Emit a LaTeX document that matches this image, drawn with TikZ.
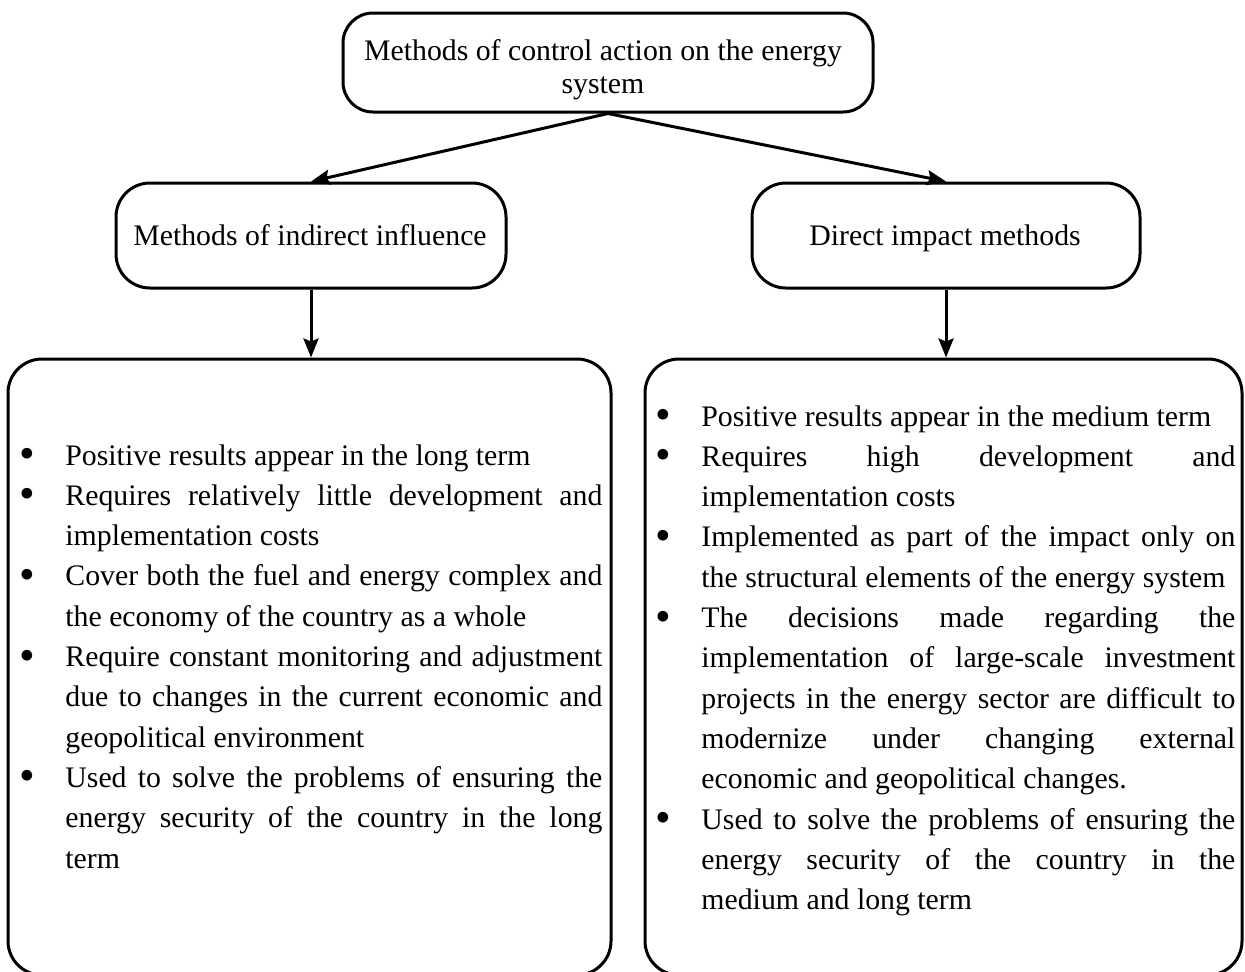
\documentclass[tikz,border=0pt]{standalone}
\usepackage{fontspec}
\setmainfont{Liberation Serif}
\usetikzlibrary{arrows.meta}

% one bullet entry with a hanging indent
\newcommand\bulletitem[1]{\hangindent=23pt\hangafter=1\noindent
  \makebox[23pt][l]{\raisebox{-0.12em}{\scalebox{1.5}{\textbullet}}}#1\par}

\begin{document}
\begin{tikzpicture}[x=0.5pt,y=-0.5pt,
  frame/.style={draw, rectangle, line width=1.5pt, inner sep=0pt},
  headtext/.style={inner sep=0pt, anchor=base,
    font=\fontsize{14.9pt}{16.5pt}\selectfont},
  listtext/.style={inner sep=0pt, anchor=base west, align=justify,
    font=\fontsize{14.9pt}{20.15pt}\selectfont},
  link/.style={line width=1.5pt, -{Stealth[length=9.5pt,width=7.5pt,inset=1.5pt]}}
]
\clip (0,0) rectangle (1245,971);
\fill[white] (0,0) rectangle (1245,971);

% boxes
\node[frame, rounded corners=15pt, minimum width=265pt, minimum height=49.5pt] (top) at (608,62.5) {};
\node[frame, rounded corners=17pt, minimum width=195pt, minimum height=52.5pt] (midL) at (311,235.5) {};
\node[frame, rounded corners=17pt, minimum width=194pt, minimum height=52.5pt] (midR) at (946,235.5) {};
\node[frame, rounded corners=17pt, minimum width=301.5pt, minimum height=308pt] (botL) at (309.5,667) {};
\node[frame, rounded corners=17pt, minimum width=298.5pt, minimum height=308pt] (botR) at (943.5,667) {};

% headings
\node[headtext] (topText) at (603,60)
  {\parbox[t]{262pt}{\centering Methods of control action on the energy\\system}};
\node[headtext] (midLText) at (310,245) {Methods of indirect influence};
\node[headtext] (midRText) at (945,245) {Direct impact methods};

% connectors
\draw[link] (top.south) -- (midL.north);
\draw[link] (top.south) -- (midR.north);
\draw[link] (midL.south) -- (midL.south |- botL.north);
\draw[link] (midR.south) -- (midR.south |- botR.north);

% bullet lists
\node[listtext, text width=291.5pt] (listL) at (19,465) {%
  \tolerance=10000 \hbadness=10000 \hyphenpenalty=10000 \exhyphenpenalty=10000 %
  \bulletitem{Positive results appear in the long term}%
  \bulletitem{Requires relatively little development and\linebreak implementation costs}%
  \bulletitem{Cover both the fuel and energy complex and\linebreak the economy of the country as a whole}%
  \bulletitem{Require constant monitoring and adjustment\linebreak due to changes in the current economic and\linebreak geopolitical environment}%
  \bulletitem{Used to solve the problems of ensuring the\linebreak energy security of the country in the long\linebreak term}};
\node[listtext, text width=290pt] (listR) at (655,426) {%
  \tolerance=10000 \hbadness=10000 \hyphenpenalty=10000 \exhyphenpenalty=10000 %
  \bulletitem{Positive results appear in the medium term}%
  \bulletitem{Requires high development and\linebreak implementation costs}%
  \bulletitem{Implemented as part of the impact only on\linebreak the structural elements of the energy system}%
  \bulletitem{The decisions made regarding the\linebreak implementation of large-scale investment\linebreak projects in the energy sector are difficult to\linebreak modernize under changing external\linebreak economic and geopolitical changes.}%
  \bulletitem{Used to solve the problems of ensuring the\linebreak energy security of the country in the\linebreak medium and long term}};
\end{tikzpicture}
\end{document}
